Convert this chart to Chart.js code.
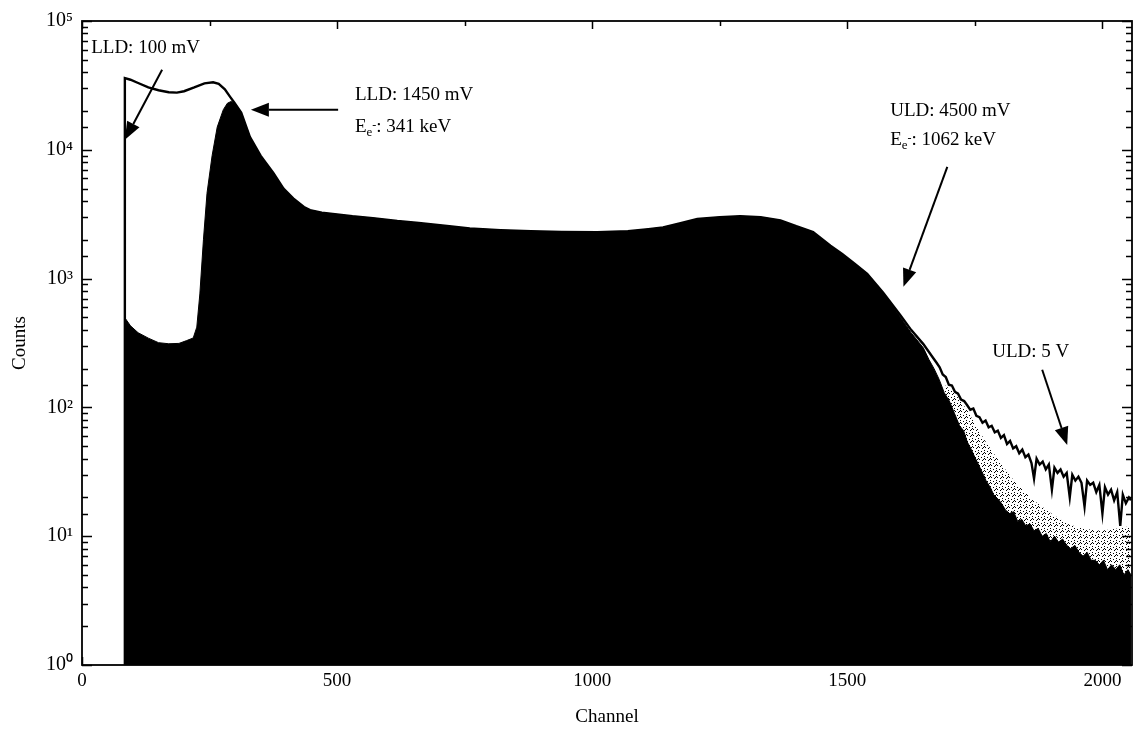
<!DOCTYPE html>
<html>
<head>
<meta charset="utf-8">
<script src="https://cdn.jsdelivr.net/npm/chart.js@4"></script>
<style>
  body { margin: 0; background: #fff; }
  #wrap { width: 1135px; height: 730px; }
</style>
</head>
<body>
<div id="wrap"><canvas id="spectrum" width="1135" height="730"></canvas></div>
<script>
const FONT = '"Liberation Serif", "Times New Roman", serif';

// LLD 1450 mV spectrum (filled black)
const blackCh = [84, 85, 95, 110, 130, 150, 170, 190, 205, 218,
  225, 231, 238, 245, 255, 265, 277, 285, 292, 300,
  312, 329, 350, 375, 395, 414, 435, 447, 470, 500,
  530, 570, 618, 660, 720, 760, 820, 880, 940, 1010,
  1070, 1110, 1139, 1175, 1206, 1250, 1290, 1330, 1369, 1400,
  1433, 1467, 1490, 1515, 1539, 1570, 1604, 1625, 1649, 1660,
  1670, 1680, 1690, 1700, 1710, 1720, 1728, 1735, 1742, 1750,
  1757, 1765, 1772, 1780, 1787, 1795, 1802, 1810, 1818, 1826,
  1834, 1842, 1850, 1858, 1866, 1874, 1882, 1890, 1898, 1906,
  1914, 1922, 1930, 1938, 1946, 1954, 1962, 1970, 1978, 1986,
  1994, 2002, 2010, 2018, 2026, 2034, 2042, 2050, 2056];
const blackCounts = [1, 490, 430, 380, 345, 318, 312, 314, 330, 346,
  420, 760, 2000, 4600, 9000, 15000, 20500, 23000, 23700, 23000,
  19500, 12600, 9000, 6600, 5000, 4200, 3600, 3400, 3250, 3150,
  3050, 2950, 2800, 2700, 2550, 2450, 2380, 2330, 2300, 2290,
  2330, 2420, 2500, 2700, 2900, 3000, 3050, 3000, 2830, 2550,
  2300, 1800, 1550, 1300, 1090, 780, 500, 380, 290, 235,
  200, 165, 130, 112, 90, 72, 66, 54, 48, 41,
  36, 31, 27, 24, 21, 19.5, 18, 16, 15, 15.5,
  13, 13.5, 12, 12.5, 11, 11.5, 10, 10.5, 9, 10,
  9, 9.5, 8.5, 8, 8.5, 7.5, 7, 7.5, 6.5, 6.5,
  6, 6.5, 5.5, 6, 5.5, 6, 5, 5.5, 5];

// sparse dotted scatter above the black tail
const speckCh = [1690, 1710, 1735, 1770, 1800, 1830, 1865, 1900, 1931, 1960, 1996, 2030, 2056];
const speckCounts = [150, 130, 95, 55, 37, 26, 19, 15, 12.5, 11.5, 11, 11.5, 12];

// LLD 100 mV / ULD 5 V spectrum (line)
const lineCh = [84, 84, 95, 110, 130, 150, 170, 186, 200, 220,
  240, 257, 268, 280, 290, 298, 312, 329, 350, 375,
  395, 414, 435, 447, 470, 500, 530, 570, 618, 660,
  720, 760, 820, 880, 940, 1010, 1070, 1110, 1139, 1175,
  1206, 1250, 1290, 1330, 1369, 1400, 1433, 1467, 1490, 1515,
  1539, 1570, 1604, 1625, 1649, 1669, 1675, 1681, 1687, 1693,
  1699, 1705, 1711, 1717, 1723, 1729, 1735, 1741, 1747, 1753,
  1759, 1765, 1771, 1777, 1783, 1789, 1795, 1801, 1807, 1813,
  1819, 1825, 1831, 1837, 1843, 1849, 1855, 1861, 1866, 1871,
  1877, 1883, 1889, 1895, 1901, 1906, 1912, 1918, 1924, 1930,
  1936, 1941, 1947, 1953, 1959, 1965, 1970, 1976, 1982, 1988,
  1994, 2000, 2005, 2011, 2017, 2023, 2029, 2035, 2040, 2046,
  2052, 2056];
const lineCounts = [1, 36000, 35000, 33000, 30500, 29000, 28000, 27800, 28500, 30500,
  32800, 33400, 32500, 29500, 25900, 23400, 19500, 12600, 9000, 6600,
  5000, 4200, 3600, 3400, 3250, 3150, 3050, 2950, 2800, 2700,
  2550, 2450, 2380, 2330, 2300, 2290, 2330, 2420, 2500, 2700,
  2900, 3000, 3050, 3000, 2830, 2550, 2300, 1800, 1550, 1300,
  1090, 780, 520, 400, 310, 240, 222, 205, 180, 172,
  150, 148, 132, 128, 115, 112, 104, 96, 98, 86,
  84, 76, 79, 70, 72, 64, 66, 58, 61, 52,
  55, 48, 50, 44, 47, 41, 43, 37, 28, 40,
  36, 38, 33, 36, 23, 34, 31, 33, 29, 31,
  20, 30, 27, 29, 26, 17, 27, 25, 26, 22,
  25, 15, 24, 21, 23, 19, 22, 12, 21, 18,
  20, 19];

const xTickValues = [0, 250, 500, 750, 1000, 1250, 1500, 1750, 2000];
const xTicksMajor = [0, 500, 1000, 1500, 2000];
const yDecades = [1, 10, 100, 1000, 10000, 100000];
const SUP = ['\u2070', '\u00B9', '\u00B2', '\u00B3', '\u2074', '\u2075'];

// annotations in data coordinates (channel, counts)
const notes = [
  { x: 18, y: 62000, parts: [{ t: 'LLD: 100 mV' }] },
  { x: 535, y: 26700, parts: [{ t: 'LLD: 1450 mV' }] },
  { x: 535, y: 15100, parts: [{ t: 'E' }, { t: 'e', sub: true }, { t: '-', subsup: true }, { t: ': 341 keV' }] },
  { x: 1584, y: 20100, parts: [{ t: 'ULD: 4500 mV' }] },
  { x: 1584, y: 11950, parts: [{ t: 'E' }, { t: 'e', sub: true }, { t: '-', subsup: true }, { t: ': 1062 keV' }] },
  { x: 1784, y: 270, parts: [{ t: 'ULD: 5 V' }] }
];
const arrows = [
  { from: [157, 41800], to: [84, 11950] },
  { from: [502, 20500], to: [331, 20500] },
  { from: [1696, 7380], to: [1610, 864] },
  { from: [1882, 196], to: [1931, 51] }
];

function toPoints(xs, ys) {
  return xs.map((c, i) => ({ x: c, y: ys[i] }));
}

function isDecade(v) {
  const e = Math.log10(v);
  return Math.abs(e - Math.round(e)) < 1e-9;
}

// fixed dot dither for the scattered tail counts
function dotPattern() {
  const c = document.createElement('canvas');
  c.width = 6; c.height = 6;
  const g = c.getContext('2d');
  g.fillStyle = '#000';
  [[0, 0], [3, 1], [1, 3], [4, 4], [0, 2], [5, 3]].forEach(([px, py]) => g.fillRect(px, py, 1, 1));
  return g.createPattern(c, 'repeat');
}

const framePlugin = {
  id: 'framePlugin',
  afterDatasetsDraw(chart) {
    const { ctx, chartArea: a, scales: { x, y } } = chart;
    ctx.save();
    ctx.strokeStyle = '#000';
    ctx.fillStyle = '#000';

    // inward tick marks on all four sides
    ctx.lineWidth = 1.5;
    ctx.beginPath();
    y.ticks.forEach(t => {
      const py = Math.round(y.getPixelForValue(t.value)) + 0.5;
      const len = isDecade(t.value) ? 10 : 6;
      ctx.moveTo(a.left, py); ctx.lineTo(a.left + len, py);
      ctx.moveTo(a.right, py); ctx.lineTo(a.right - len, py);
    });
    x.ticks.forEach(t => {
      const px = Math.round(x.getPixelForValue(t.value)) + 0.5;
      const len = t.value % 500 === 0 ? 8 : 5;
      ctx.moveTo(px, a.bottom); ctx.lineTo(px, a.bottom - len);
      ctx.moveTo(px, a.top); ctx.lineTo(px, a.top + len);
    });
    ctx.stroke();

    ctx.lineWidth = 1.8;
    ctx.strokeRect(a.left, a.top, a.right - a.left, a.bottom - a.top);

    // annotation text
    ctx.textBaseline = 'middle';
    ctx.textAlign = 'left';
    notes.forEach(n => {
      let px = x.getPixelForValue(n.x);
      const py = y.getPixelForValue(n.y);
      n.parts.forEach(p => {
        let size = 19, dy = 0;
        if (p.sub) { size = 13; dy = 6; }
        if (p.subsup) { size = 12; dy = -1; }
        ctx.font = size + 'px ' + FONT;
        ctx.fillText(p.t, px, py + dy);
        px += ctx.measureText(p.t).width;
      });
    });

    // arrows with filled heads
    ctx.lineWidth = 2;
    arrows.forEach(ar => {
      const x0 = x.getPixelForValue(ar.from[0]), y0 = y.getPixelForValue(ar.from[1]);
      const x1 = x.getPixelForValue(ar.to[0]), y1 = y.getPixelForValue(ar.to[1]);
      const ang = Math.atan2(y1 - y0, x1 - x0);
      const head = 18, half = 7;
      const bx = x1 - head * Math.cos(ang), by = y1 - head * Math.sin(ang);
      ctx.beginPath();
      ctx.moveTo(x0, y0); ctx.lineTo(bx, by);
      ctx.stroke();
      ctx.beginPath();
      ctx.moveTo(x1, y1);
      ctx.lineTo(bx + half * Math.sin(ang), by - half * Math.cos(ang));
      ctx.lineTo(bx - half * Math.sin(ang), by + half * Math.cos(ang));
      ctx.closePath();
      ctx.fill();
    });
    ctx.restore();
  }
};

const ctx = document.getElementById('spectrum').getContext('2d');
new Chart(ctx, {
  type: 'line',
  data: {
    datasets: [
      {
        label: 'LLD 100 mV',
        data: toPoints(lineCh, lineCounts),
        borderColor: '#000',
        borderWidth: 2.4,
        pointRadius: 0,
        fill: false,
        tension: 0,
        order: 0
      },
      {
        label: 'LLD 1450 mV',
        data: toPoints(blackCh, blackCounts),
        borderColor: '#000',
        backgroundColor: '#000',
        borderWidth: 1,
        pointRadius: 0,
        fill: 'start',
        tension: 0,
        order: 1
      },
      {
        label: 'scatter',
        data: toPoints(speckCh, speckCounts),
        borderColor: 'rgba(0,0,0,0)',
        backgroundColor: dotPattern(),
        borderWidth: 0,
        pointRadius: 0,
        fill: 'start',
        tension: 0,
        order: 2
      }
    ]
  },
  options: {
    responsive: false,
    animation: false,
    layout: { padding: { top: 21, right: 3, left: 0, bottom: 0 } },
    plugins: {
      legend: { display: false },
      tooltip: { enabled: false }
    },
    scales: {
      x: {
        type: 'linear',
        min: 0,
        max: 2058,
        afterFit: s => { s.height = 65; },
        afterBuildTicks: s => { s.ticks = xTickValues.map(v => ({ value: v })); },
        grid: { display: false, drawTicks: false },
        border: { display: false },
        ticks: {
          autoSkip: false,
          maxRotation: 0,
          padding: 5,
          color: '#000',
          font: { family: FONT, size: 19 },
          callback: v => xTicksMajor.includes(v) ? String(v) : ''
        },
        title: {
          display: true,
          text: 'Channel',
          color: '#000',
          font: { family: FONT, size: 19 },
          padding: { top: 0, bottom: 2 }
        }
      },
      y: {
        type: 'logarithmic',
        min: 1,
        max: 100000,
        afterFit: s => { s.width = 82; },
        grid: { display: false, drawTicks: false },
        border: { display: false },
        ticks: {
          autoSkip: false,
          padding: 9,
          color: '#000',
          font: { family: FONT, size: 20 },
          callback: v => {
            const i = yDecades.indexOf(v);
            return i >= 0 ? '10' + SUP[i] : '';
          }
        },
        title: {
          display: true,
          text: 'Counts',
          color: '#000',
          font: { family: FONT, size: 19 },
          padding: { top: 9, bottom: 0 }
        }
      }
    }
  },
  plugins: [framePlugin]
});
</script>
</body>
</html>
